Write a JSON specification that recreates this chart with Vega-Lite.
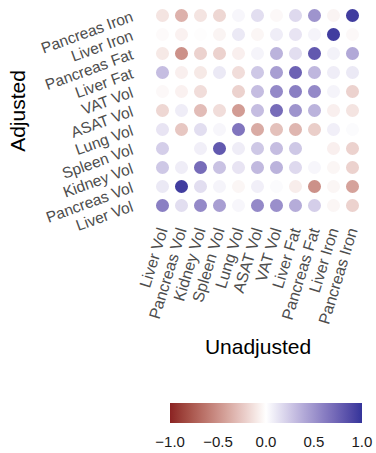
{
  "$schema": "https://vega.github.io/schema/vega-lite/v6.json",
  "width": 209,
  "height": 209,
  "autosize": {"type": "none"},
  "padding": {"left": 153, "top": 6, "right": 14, "bottom": 238},
  "background": "white",
  "config": {"view": {"stroke": null}, "font": "Liberation Sans"},
  "data": {"values": [
    {"u":"Liver Vol","a":"Pancreas Iron","r":-0.12},{"u":"Pancreas Vol","a":"Pancreas Iron","r":-0.35},{"u":"Kidney Vol","a":"Pancreas Iron","r":-0.12},{"u":"Spleen Vol","a":"Pancreas Iron","r":-0.18},{"u":"Lung Vol","a":"Pancreas Iron","r":0.04},{"u":"ASAT Vol","a":"Pancreas Iron","r":0.15},{"u":"VAT Vol","a":"Pancreas Iron","r":-0.03},{"u":"Liver Fat","a":"Pancreas Iron","r":0.17},{"u":"Pancreas Fat","a":"Pancreas Iron","r":0.5},{"u":"Liver Iron","a":"Pancreas Iron","r":-0.05},{"u":"Pancreas Iron","a":"Pancreas Iron","r":0.95},
    {"u":"Liver Vol","a":"Liver Iron","r":-0.02},{"u":"Pancreas Vol","a":"Liver Iron","r":-0.06},{"u":"Kidney Vol","a":"Liver Iron","r":-0.01},{"u":"Spleen Vol","a":"Liver Iron","r":-0.05},{"u":"Lung Vol","a":"Liver Iron","r":0.1},{"u":"ASAT Vol","a":"Liver Iron","r":-0.04},{"u":"VAT Vol","a":"Liver Iron","r":0.08},{"u":"Liver Fat","a":"Liver Iron","r":0.12},{"u":"Pancreas Fat","a":"Liver Iron","r":0.05},{"u":"Liver Iron","a":"Liver Iron","r":0.95},{"u":"Pancreas Iron","a":"Liver Iron","r":-0.03},
    {"u":"Liver Vol","a":"Pancreas Fat","r":-0.1},{"u":"Pancreas Vol","a":"Pancreas Fat","r":-0.5},{"u":"Kidney Vol","a":"Pancreas Fat","r":-0.2},{"u":"Spleen Vol","a":"Pancreas Fat","r":-0.2},{"u":"Lung Vol","a":"Pancreas Fat","r":-0.07},{"u":"ASAT Vol","a":"Pancreas Fat","r":0.05},{"u":"VAT Vol","a":"Pancreas Fat","r":0.35},{"u":"Liver Fat","a":"Pancreas Fat","r":0.15},{"u":"Pancreas Fat","a":"Pancreas Fat","r":0.8},{"u":"Liver Iron","a":"Pancreas Fat","r":0.06},{"u":"Pancreas Iron","a":"Pancreas Fat","r":0.4},
    {"u":"Liver Vol","a":"Liver Fat","r":0.3},{"u":"Pancreas Vol","a":"Liver Fat","r":-0.07},{"u":"Kidney Vol","a":"Liver Fat","r":-0.1},{"u":"Spleen Vol","a":"Liver Fat","r":0.1},{"u":"Lung Vol","a":"Liver Fat","r":-0.15},{"u":"ASAT Vol","a":"Liver Fat","r":0.25},{"u":"VAT Vol","a":"Liver Fat","r":0.45},{"u":"Liver Fat","a":"Liver Fat","r":0.75},{"u":"Pancreas Fat","a":"Liver Fat","r":0.33},{"u":"Liver Iron","a":"Liver Fat","r":0.08},{"u":"Pancreas Iron","a":"Liver Fat","r":0.1},
    {"u":"Liver Vol","a":"VAT Vol","r":-0.03},{"u":"Pancreas Vol","a":"VAT Vol","r":-0.06},{"u":"Kidney Vol","a":"VAT Vol","r":-0.15},{"u":"Spleen Vol","a":"VAT Vol","r":0.0},{"u":"Lung Vol","a":"VAT Vol","r":-0.2},{"u":"ASAT Vol","a":"VAT Vol","r":0.3},{"u":"VAT Vol","a":"VAT Vol","r":0.55},{"u":"Liver Fat","a":"VAT Vol","r":0.6},{"u":"Pancreas Fat","a":"VAT Vol","r":0.55},{"u":"Liver Iron","a":"VAT Vol","r":0.05},{"u":"Pancreas Iron","a":"VAT Vol","r":-0.2},
    {"u":"Liver Vol","a":"ASAT Vol","r":-0.18},{"u":"Pancreas Vol","a":"ASAT Vol","r":0.08},{"u":"Kidney Vol","a":"ASAT Vol","r":-0.3},{"u":"Spleen Vol","a":"ASAT Vol","r":-0.15},{"u":"Lung Vol","a":"ASAT Vol","r":-0.45},{"u":"ASAT Vol","a":"ASAT Vol","r":0.3},{"u":"VAT Vol","a":"ASAT Vol","r":0.7},{"u":"Liver Fat","a":"ASAT Vol","r":0.5},{"u":"Pancreas Fat","a":"ASAT Vol","r":0.35},{"u":"Liver Iron","a":"ASAT Vol","r":-0.07},{"u":"Pancreas Iron","a":"ASAT Vol","r":-0.12},
    {"u":"Liver Vol","a":"Lung Vol","r":0.12},{"u":"Pancreas Vol","a":"Lung Vol","r":-0.25},{"u":"Kidney Vol","a":"Lung Vol","r":0.15},{"u":"Spleen Vol","a":"Lung Vol","r":0.04},{"u":"Lung Vol","a":"Lung Vol","r":0.65},{"u":"ASAT Vol","a":"Lung Vol","r":-0.38},{"u":"VAT Vol","a":"Lung Vol","r":-0.28},{"u":"Liver Fat","a":"Lung Vol","r":-0.33},{"u":"Pancreas Fat","a":"Lung Vol","r":-0.22},{"u":"Liver Iron","a":"Lung Vol","r":0.07},{"u":"Pancreas Iron","a":"Lung Vol","r":0.02},
    {"u":"Liver Vol","a":"Spleen Vol","r":0.22},{"u":"Pancreas Vol","a":"Spleen Vol","r":0.0},{"u":"Kidney Vol","a":"Spleen Vol","r":0.07},{"u":"Spleen Vol","a":"Spleen Vol","r":0.8},{"u":"Lung Vol","a":"Spleen Vol","r":0.08},{"u":"ASAT Vol","a":"Spleen Vol","r":0.25},{"u":"VAT Vol","a":"Spleen Vol","r":0.3},{"u":"Liver Fat","a":"Spleen Vol","r":0.25},{"u":"Pancreas Fat","a":"Spleen Vol","r":0.0},{"u":"Liver Iron","a":"Spleen Vol","r":-0.07},{"u":"Pancreas Iron","a":"Spleen Vol","r":-0.2},
    {"u":"Liver Vol","a":"Kidney Vol","r":0.25},{"u":"Pancreas Vol","a":"Kidney Vol","r":0.08},{"u":"Kidney Vol","a":"Kidney Vol","r":0.7},{"u":"Spleen Vol","a":"Kidney Vol","r":0.28},{"u":"Lung Vol","a":"Kidney Vol","r":0.12},{"u":"ASAT Vol","a":"Kidney Vol","r":0.32},{"u":"VAT Vol","a":"Kidney Vol","r":0.35},{"u":"Liver Fat","a":"Kidney Vol","r":0.17},{"u":"Pancreas Fat","a":"Kidney Vol","r":0.04},{"u":"Liver Iron","a":"Kidney Vol","r":-0.04},{"u":"Pancreas Iron","a":"Kidney Vol","r":-0.2},
    {"u":"Liver Vol","a":"Pancreas Vol","r":0.1},{"u":"Pancreas Vol","a":"Pancreas Vol","r":0.95},{"u":"Kidney Vol","a":"Pancreas Vol","r":0.15},{"u":"Spleen Vol","a":"Pancreas Vol","r":0.05},{"u":"Lung Vol","a":"Pancreas Vol","r":-0.04},{"u":"ASAT Vol","a":"Pancreas Vol","r":0.07},{"u":"VAT Vol","a":"Pancreas Vol","r":0.02},{"u":"Liver Fat","a":"Pancreas Vol","r":-0.08},{"u":"Pancreas Fat","a":"Pancreas Vol","r":-0.5},{"u":"Liver Iron","a":"Pancreas Vol","r":-0.04},{"u":"Pancreas Iron","a":"Pancreas Vol","r":-0.42},
    {"u":"Liver Vol","a":"Liver Vol","r":0.6},{"u":"Pancreas Vol","a":"Liver Vol","r":0.15},{"u":"Kidney Vol","a":"Liver Vol","r":0.55},{"u":"Spleen Vol","a":"Liver Vol","r":0.45},{"u":"Lung Vol","a":"Liver Vol","r":0.04},{"u":"ASAT Vol","a":"Liver Vol","r":0.55},{"u":"VAT Vol","a":"Liver Vol","r":0.52},{"u":"Liver Fat","a":"Liver Vol","r":0.38},{"u":"Pancreas Fat","a":"Liver Vol","r":0.22},{"u":"Liver Iron","a":"Liver Vol","r":-0.04},{"u":"Pancreas Iron","a":"Liver Vol","r":-0.2}
  ]},
  "mark": {"type": "circle", "size": 170, "opacity": 1},
  "encoding": {
    "x": {
      "field": "u", "type": "nominal",
      "scale": {"domain": ["Liver Vol","Pancreas Vol","Kidney Vol","Spleen Vol","Lung Vol","ASAT Vol","VAT Vol","Liver Fat","Pancreas Fat","Liver Iron","Pancreas Iron"], "paddingInner": 0, "paddingOuter": 0},
      "axis": {"title": "Unadjusted", "titleFontSize": 21, "titleFontWeight": "normal", "titleColor": "black", "titleY": 132, "titleBaseline": "middle",
               "labelAngle": -73, "labelAlign": "right", "labelBaseline": "middle", "labelFontSize": 16, "labelColor": "#4d4d4d", "labelPadding": 13,
               "domain": false, "ticks": false, "grid": false}
    },
    "y": {
      "field": "a", "type": "nominal",
      "scale": {"domain": ["Pancreas Iron","Liver Iron","Pancreas Fat","Liver Fat","VAT Vol","ASAT Vol","Lung Vol","Spleen Vol","Kidney Vol","Pancreas Vol","Liver Vol"], "paddingInner": 0, "paddingOuter": 0},
      "axis": {"title": "Adjusted", "titleFontSize": 21, "titleFontWeight": "normal", "titleColor": "black", "titleX": -135, "titleBaseline": "middle",
               "labelAngle": -20, "labelAlign": "right", "labelBaseline": "middle", "labelFontSize": 15.5, "labelColor": "#4d4d4d", "labelPadding": 21,
               "domain": false, "ticks": false, "grid": false}
    },
    "color": {
      "field": "r", "type": "quantitative",
      "scale": {"domain": [-1.001, 0, 1.001], "range": ["#8b2323", "#ffffff", "#34349a"], "interpolate": "lab"},
      "legend": {"title": null, "orient": "none", "direction": "horizontal", "legendX": 17, "legendY": 397,
                 "gradientLength": 192, "gradientThickness": 20, "values": [-1, -0.5, 0, 0.5, 1], "format": ".1f",
                 "labelFontSize": 15, "labelColor": "#1a1a1a", "labelOffset": 12, "gradientStrokeWidth": 0, "labelOverlap": false}
    }
  }
}
